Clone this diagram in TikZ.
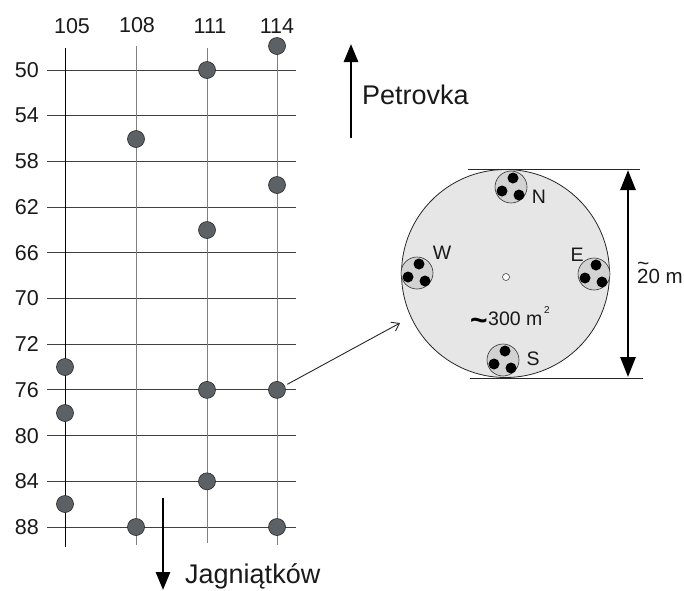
\documentclass[tikz,border=0pt]{standalone}
\usepackage{fontspec}
\setmainfont{Liberation Sans}
\usetikzlibrary{arrows.meta}
\definecolor{dotgray}{HTML}{5C6166}
\definecolor{plotfill}{HTML}{E6E6E6}
\definecolor{smallfill}{HTML}{D2D2D2}
\begin{document}
\begin{tikzpicture}[x=1pt,y=-1pt,
  gridh/.style={line width=0.85pt,black!75},
  gridv/.style={line width=0.85pt,black!50},
  dotnode/.style={circle,draw=black!85,line width=0.6pt,fill=dotgray,minimum size=17pt,inner sep=0pt},
  lbl/.style={font=\fontsize{21.5}{21.5}\selectfont,inner sep=0pt,text=black!90},
  street/.style={font=\fontsize{27}{27}\selectfont,inner sep=0pt,text=black!90},
  thickarrow/.style={line width=2.8pt,-{Triangle[length=18pt,width=14pt]}},
  sub/.style={circle,draw=black!80,line width=0.6pt,fill=smallfill,minimum size=32pt,inner sep=0pt},
  bdot/.style={circle,fill=black,minimum size=11pt,inner sep=0pt},
  dir/.style={font=\fontsize{19.5}{19.5}\selectfont,inner sep=0pt,text=black!90}
]
\useasboundingbox (0,0) rectangle (684,590);
% grid
\foreach \y/\t [count=\i] in {70/50,115.7/54,161.4/58,207.1/62,252.8/66,298.5/70,344.2/72,389.9/76,435.6/80,481.3/84,527/88}{
  \draw[gridh] (47,\y) -- (296,\y);
  \node[lbl,anchor=east] (r\t) at (39,\y) {\t};
}
\draw[line width=0.85pt,black] (65,48) -- (65,547);
\draw[gridv] (136,46) -- (136,545);
\draw[gridv] (207,48) -- (207,543);
\draw[gridv] (277,46) -- (277,545);
\node[lbl] (c105) at (72,26) {105};
\node[lbl] (c108) at (137,25) {108};
\node[lbl] (c111) at (210,26) {111};
\node[lbl] (c114) at (277,26) {114};
% dots
\node[dotnode] (d1) at (277,46) {};
\node[dotnode] (d2) at (207,70) {};
\node[dotnode] (d3) at (136,139) {};
\node[dotnode] (d4) at (277,185) {};
\node[dotnode] (d5) at (207,230) {};
\node[dotnode] (d6) at (65,367) {};
\node[dotnode] (d7) at (65,413) {};
\node[dotnode] (d8) at (207,389.9) {};
\node[dotnode] (d9) at (277,389.9) {};
\node[dotnode] (d10) at (207,481.3) {};
\node[dotnode] (d11) at (65,504) {};
\node[dotnode] (d12) at (136,527) {};
\node[dotnode] (d13) at (277,527) {};
% street arrows
\coordinate (pb) at (351,138);
\coordinate (pt) at (351,44);
\draw[thickarrow] (pb) -- (pt);
\node[street,anchor=base west] (petr) at (362,104) {Petrovka};
\coordinate (jt) at (163,498);
\coordinate (jb) at (163,590);
\draw[thickarrow] (jt) -- (jb);
\node[street,anchor=base west] (jag) at (185,583) {Jagniątków};
% plot circle
\node[circle,draw=black!85,line width=0.8pt,fill=plotfill,minimum size=208pt,inner sep=0pt] (plot) at (505.5,273.5) {};
\node[circle,draw=black!85,line width=0.5pt,fill=white,minimum size=7pt,inner sep=0pt] (ctr) at (506,277) {};
% subplots
\foreach \n/\x/\y in {N/511/187,W/417/273,E/594/274,S/503/360}{
  \node[sub] (s\n) at (\x,\y) {};
  \node[bdot] at (\x+2,\y-9) {};
  \node[bdot] at (\x-9,\y+4) {};
  \node[bdot] at (\x+8,\y+8) {};
}
\node[dir] (lN) at (539,197) {N};
\node[dir] (lW) at (442,253) {W};
\node[dir] (lE) at (577,255) {E};
\node[dir] (lS) at (533,359) {S};
% area label
\node[inner sep=0pt,font=\fontsize{30}{30}\selectfont\bfseries] (tl) at (479,324) {\char`\~};
\node[dir,anchor=base west] (area) at (488,325) {300 m};
\node[inner sep=0pt,font=\fontsize{10}{10}\selectfont,text=black!90] (sq) at (547,310) {2};
% connector
\coordinate (ptip) at (400,323);
\draw[line width=0.9pt,black!85,-{Straight Barb[length=7pt,width=10pt]},shorten <=3pt] (d9) -- (ptip);
% dimension
\coordinate (tl1) at (468,169);
\coordinate (tl2) at (640,169);
\coordinate (bl1) at (470,378);
\coordinate (bl2) at (643,378);
\draw[line width=0.8pt,black!85] (tl1) -- (tl2);
\draw[line width=0.8pt,black!85] (bl1) -- (bl2);
\coordinate (da) at (628,170);
\coordinate (db) at (628,377);
\draw[line width=2.8pt,{Triangle[length=20pt,width=15pt]}-{Triangle[length=20pt,width=15pt]}] (da) -- (db);
\node[inner sep=0pt,font=\fontsize{20.5}{20.5}\selectfont,text=black!90,anchor=base west] (dim) at (637,283) {\rlap{\raisebox{12.5pt}{\fontsize{21}{21}\selectfont\char`\~}}20 m};
\end{tikzpicture}
\end{document}
